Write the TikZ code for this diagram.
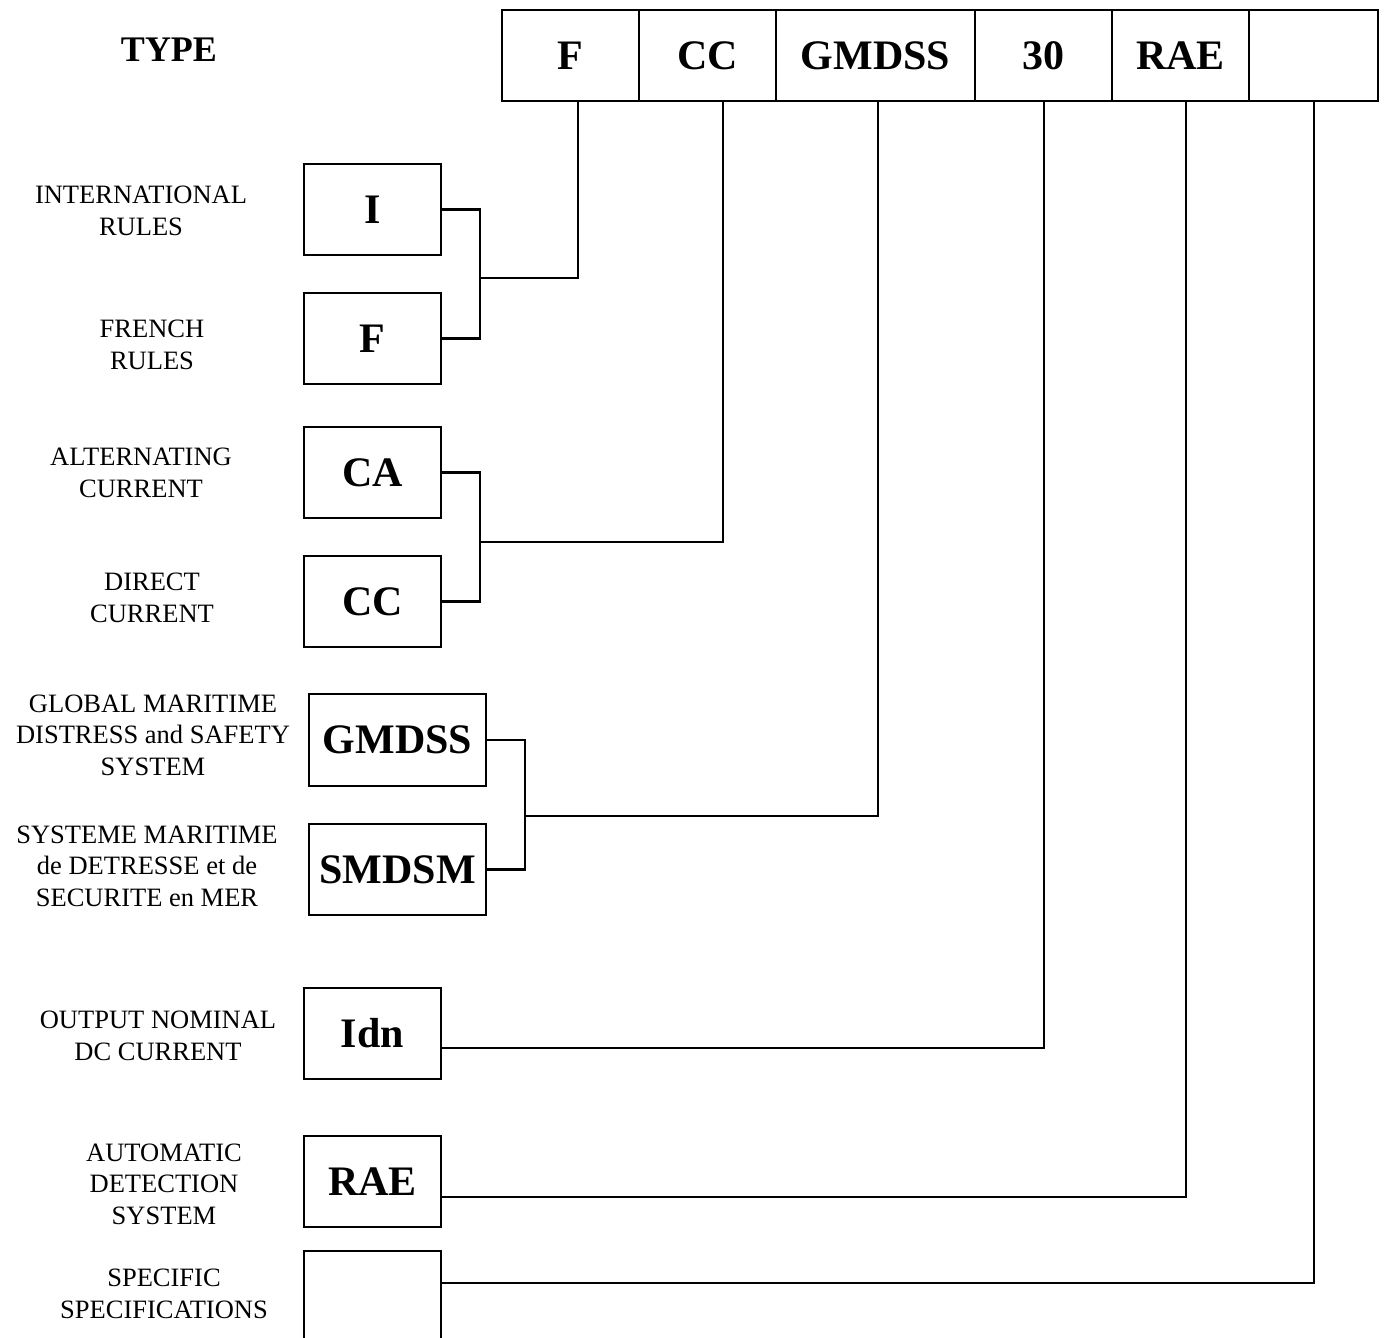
\documentclass[tikz,border=0pt]{standalone}
\usepackage{fontspec}
\setmainfont{Liberation Serif}
\begin{document}
\begin{tikzpicture}[x=0.5pt,y=-0.5pt,
  cell/.style={draw,line width=1.2pt,minimum height=45.5pt,inner sep=0pt,font=\fontsize{21}{24}\selectfont\bfseries},
  lbox/.style={draw,line width=1.2pt,minimum width=68.5pt,minimum height=45.5pt,inner sep=0pt,font=\fontsize{21}{24}\selectfont\bfseries},
  lbl/.style={align=center,inner sep=0pt,font=\fontsize{13.25}{15.75}\selectfont},
  conn/.style={line width=1.1pt}]
\useasboundingbox (0,0) rectangle (1387,1338);
% title
\node[font=\fontsize{18}{20}\selectfont\bfseries] (type) at (169,50) {TYPE};
% top row
\node[cell,minimum width=68.5pt] (t1) at (570.5,55.5) {F};
\node[cell,minimum width=68.5pt] (t2) at (707.5,55.5) {CC};
\node[cell,minimum width=99.5pt] (t3) at (875.5,55.5) {GMDSS};
\node[cell,minimum width=68.5pt] (t4) at (1043.5,55.5) {30};
\node[cell,minimum width=68.5pt] (t5) at (1180.5,55.5) {RAE};
\node[cell,minimum width=64.5pt] (t6) at (1313.5,55.5) {};
% left boxes
\node[lbox] (bI) at (372.5,209.5) {I};
\node[lbox] (bF) at (372.5,338.5) {F};
\node[lbox] (bCA) at (372.5,472.5) {CA};
\node[lbox] (bCC) at (372.5,601.5) {CC};
\node[lbox,minimum width=88.5pt,minimum height=46pt] (bG) at (397.5,740) {GMDSS};
\node[lbox,minimum width=88.5pt] (bS) at (397.5,869.5) {SMDSM};
\node[lbox] (bIdn) at (372.5,1033.5) {Idn};
\node[lbox] (bR) at (372.5,1181.5) {RAE};
\node[lbox,minimum height=49pt] (bE) at (372.5,1300) {};
% labels
\node[lbl] (l1) at (141,211) {INTERNATIONAL\\RULES};
\node[lbl] (l2) at (152,345) {FRENCH\\RULES};
\node[lbl] (l3) at (141,473) {ALTERNATING\\CURRENT};
\node[lbl] (l4) at (152,598) {DIRECT\\CURRENT};
\node[lbl] (l5) at (153,735) {GLOBAL MARITIME\\DISTRESS and SAFETY\\SYSTEM};
\node[lbl] (l6) at (147,866) {SYSTEME MARITIME\\de DETRESSE et de\\SECURITE en MER};
\node[lbl] (l7) at (158,1036) {OUTPUT NOMINAL\\DC CURRENT};
\node[lbl] (l8) at (164,1184) {AUTOMATIC\\DETECTION\\SYSTEM};
\node[lbl] (l9) at (164,1294) {SPECIFIC\\SPECIFICATIONS};
% junctions and drop points
\coordinate (j1) at (480,278);
\coordinate (j2) at (480,542);
\coordinate (j3) at (525,816);
\coordinate (c1) at (578,101);
\coordinate (c2) at (723,101);
\coordinate (c3) at (878,101);
\coordinate (c4) at (1044,101);
\coordinate (c5) at (1186,101);
\coordinate (c6) at (1314,101);
% connectors
\draw[conn] (bI.east) -| (j1) |- (bF.east);
\draw[conn] (j1) -| (c1);
\draw[conn] (bCA.east) -| (j2) |- (bCC.east);
\draw[conn] (j2) -| (c2);
\draw[conn] (bG.east) -| (j3) |- (bS.east);
\draw[conn] (j3) -| (c3);
\draw[conn] (bIdn.east |- 0,1048) -| (c4);
\draw[conn] (bR.east |- 0,1197) -| (c5);
\draw[conn] (bE.east |- 0,1283) -| (c6);
\end{tikzpicture}
\end{document}
